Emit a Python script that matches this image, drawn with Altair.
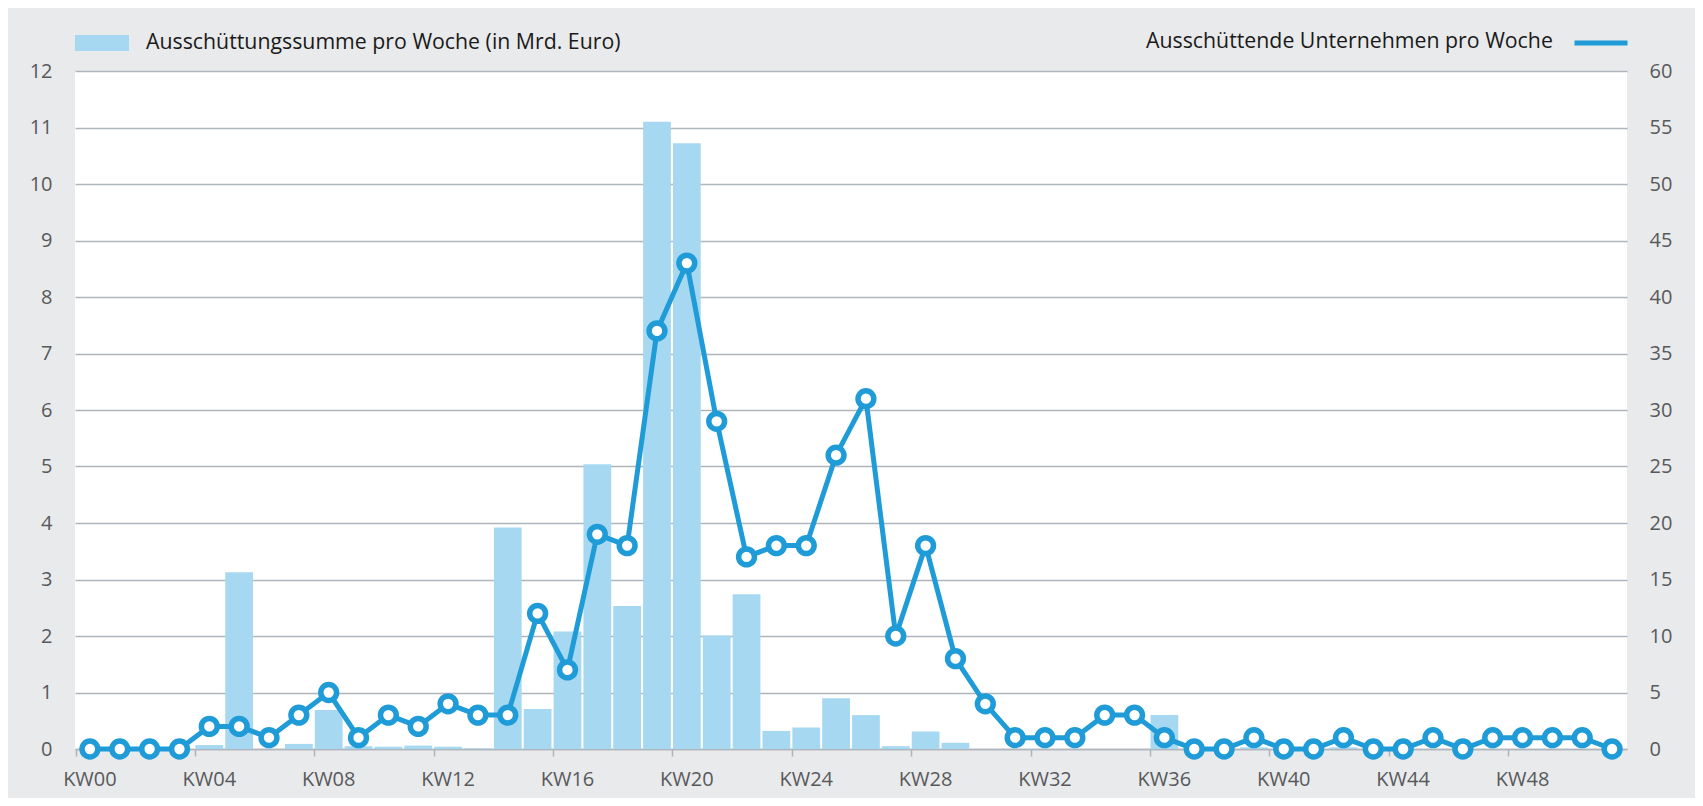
import altair as alt
import pandas as pd

weeks = ["KW00", "KW01", "KW02", "KW03", "KW04", "KW05", "KW06", "KW07", "KW08", "KW09",
         "KW10", "KW11", "KW12", "KW13", "KW14", "KW15", "KW16", "KW17", "KW18", "KW19",
         "KW20", "KW21", "KW22", "KW23", "KW24", "KW25", "KW26", "KW27", "KW28", "KW29",
         "KW30", "KW31", "KW32", "KW33", "KW34", "KW35", "KW36", "KW37", "KW38", "KW39",
         "KW40", "KW41", "KW42", "KW43", "KW44", "KW45", "KW46", "KW47", "KW48", "KW49",
         "KW50", "KW51"]

# Ausschüttungssumme pro Woche (in Mrd. Euro) - left axis
amounts = [0, 0, 0, 0, 0.07, 3.13, 0, 0.09, 0.69, 0.05,
           0.04, 0.06, 0.04, 0.01, 3.92, 0.71, 2.08, 5.04, 2.53, 11.1,
           10.72, 2.01, 2.74, 0.32, 0.38, 0.90, 0.60, 0.05, 0.31, 0.11,
           0, 0, 0, 0, 0, 0, 0.60, 0, 0, 0.03,
           0, 0, 0.03, 0, 0, 0, 0, 0, 0, 0,
           0, 0]

# Ausschüttende Unternehmen pro Woche - right axis
companies = [0, 0, 0, 0, 2, 2, 1, 3, 5, 1,
             3, 2, 4, 3, 3, 12, 7, 19, 18, 37,
             43, 29, 17, 18, 18, 26, 31, 10, 18, 8,
             4, 1, 1, 1, 3, 3, 1, 0, 0, 1,
             0, 0, 1, 0, 0, 1, 0, 1, 1, 1,
             1, 0]

tick_weeks = ["KW00", "KW04", "KW08", "KW12", "KW16", "KW20", "KW24",
              "KW28", "KW32", "KW36", "KW40", "KW44", "KW48"]
left_ticks = [0, 1, 2, 3, 4, 5, 6, 7, 8, 9, 10, 11, 12]
right_ticks = [0, 5, 10, 15, 20, 25, 30, 35, 40, 45, 50, 55, 60]

bar_name = "Ausschüttungssumme pro Woche (in Mrd. Euro)"
line_name = "Ausschüttende Unternehmen pro Woche"

df = pd.DataFrame({
    "week": weeks,
    "amount": amounts,
    "companies": companies,
    "bar_series": [bar_name] * len(weeks),
    "line_series": [line_name] * len(weeks),
})

BG = "#e9eaec"
BAR = "#a6d8f2"
LINE = "#1f9bd7"
GRID = "#afb5bc"
LABEL = "#58595b"
TEXT = "#1a1a1a"
FONT = "Open Sans"
LEG_FS = 21.3

xscale = alt.Scale(paddingInner=0.07, paddingOuter=0.035)

bars = alt.Chart(df).mark_bar().encode(
    x=alt.X("week:N", sort=weeks, scale=xscale,
            axis=alt.Axis(orient="bottom", values=tick_weeks, ticks=False, domain=True,
                          domainColor=GRID, domainWidth=1.5, labelAngle=0, labelPadding=20,
                          grid=False, title=None, labelFontSize=20, labelColor=LABEL,
                          labelFont=FONT)),
    y=alt.Y("amount:Q", scale=alt.Scale(domain=[0, 12], nice=False),
            axis=alt.Axis(values=left_ticks, grid=True, gridColor=GRID, gridWidth=1.5,
                          domain=False, ticks=False, labelPadding=23, title=None,
                          labelFontSize=20, labelColor=LABEL, labelFont=FONT)),
    fill=alt.Fill("bar_series:N", scale=alt.Scale(domain=[bar_name], range=[BAR]),
                  legend=alt.Legend(title=None, orient="none", legendX=0, legendY=-55,
                                    symbolType="M-1,-0.296H1V0.296H-1Z", symbolSize=2916,
                                    symbolStrokeWidth=0, labelFontSize=LEG_FS, labelFont=FONT,
                                    labelColor=TEXT, labelOffset=17, labelLimit=0,
                                    padding=0)),
)

line = alt.Chart(df).mark_line(
    strokeWidth=5,
    point=alt.OverlayMarkDef(filled=True, fill="white", stroke=LINE, strokeWidth=5.5,
                             size=250, opacity=1),
).encode(
    x=alt.X("week:N", sort=weeks, scale=xscale,
            axis=alt.Axis(orient="bottom", values=tick_weeks, labels=False, ticks=True,
                          tickSize=7, tickColor=GRID, tickWidth=1.5, bandPosition=0,
                          domain=False, grid=False, title=None, offset=0)),
    y=alt.Y("companies:Q", scale=alt.Scale(domain=[0, 60], nice=False),
            axis=alt.Axis(orient="right", values=right_ticks, grid=False, domain=False,
                          ticks=False, labelPadding=22, title=None,
                          labelFontSize=20, labelColor=LABEL, labelFont=FONT)),
    stroke=alt.Stroke("line_series:N", scale=alt.Scale(domain=[line_name], range=[LINE]),
                      legend=alt.Legend(title=line_name, titleOrient="left", labelExpr="''",
                                        orient="none", legendX=1071, legendY=-57,
                                        symbolType="stroke", symbolSize=2809,
                                        symbolStrokeWidth=5, titleFontSize=LEG_FS,
                                        titleFont=FONT, titleFontWeight="normal",
                                        titleColor=TEXT, titlePadding=19, titleAnchor="middle",
                                        titleBaseline="line-top", titleLineHeight=16,
                                        titleLimit=0, padding=0, labelOffset=0)),
)

chart = alt.layer(bars, line).resolve_scale(
    y="independent"
).resolve_axis(
    x="independent"
).properties(
    width=1552,
    height=678,
    autosize=alt.AutoSizeParams(type="none"),
    padding={"left": 67, "top": 63, "right": 68, "bottom": 49},
    background=BG,
).configure_view(
    fill="white",
    strokeWidth=0,
)

chart.save("out.html", embed_options={"renderer": "svg", "actions": False})
